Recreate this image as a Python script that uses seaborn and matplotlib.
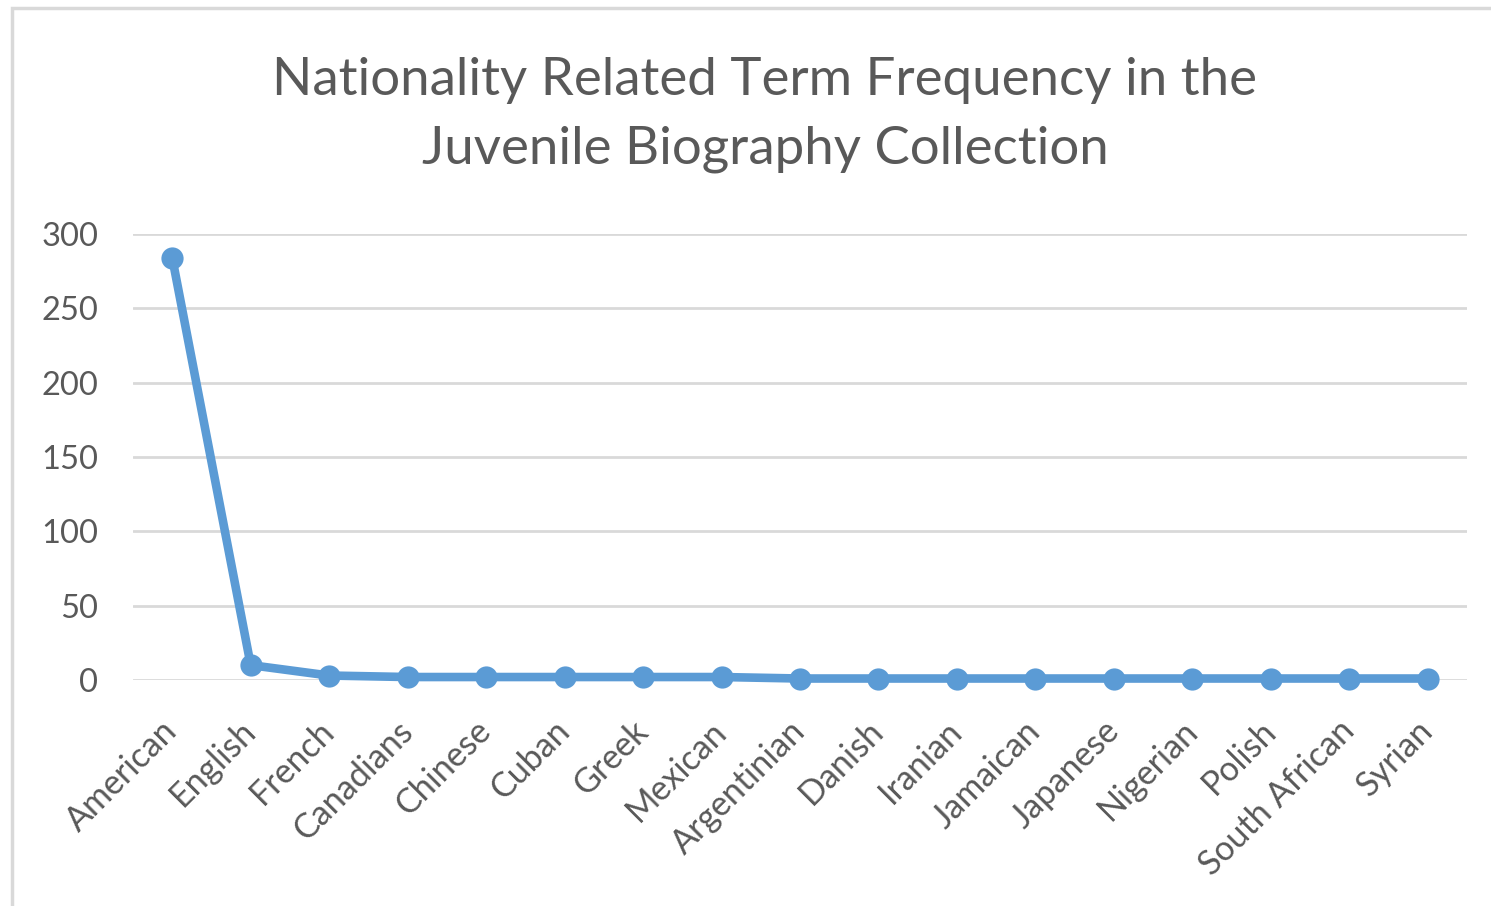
import seaborn as sns
import matplotlib.pyplot as plt
import pandas as pd
from matplotlib.patches import Rectangle

nationalities = ['American', 'English', 'French', 'Canadians', 'Chinese', 'Cuban',
                 'Greek', 'Mexican', 'Argentinian', 'Danish', 'Iranian', 'Jamaican',
                 'Japanese', 'Nigerian', 'Polish', 'South African', 'Syrian']
counts = [284, 10, 3, 2, 2, 2, 2, 2, 1, 1, 1, 1, 1, 1, 1, 1, 1]

df = pd.DataFrame({'term': nationalities, 'count': counts})

sns.set_style('white')
plt.rcParams['font.family'] = ['Lato', 'DejaVu Sans']

fig = plt.figure(figsize=(14.91, 9.06), dpi=100)
ax = fig.add_axes([133 / 1491, 1 - 680 / 906, (1467 - 133) / 1491, 446 / 906])

sns.lineplot(data=df, x='term', y='count', ax=ax, color='#5B9BD5', linewidth=6.2,
             marker='o', markersize=16, markeredgewidth=0, sort=False)

ax.set_ylim(0, 300)
ax.set_xlim(-0.5, len(nationalities) - 0.5)
ax.set_yticks(range(0, 301, 50))
ax.yaxis.grid(True, color='#D9D9D9', linewidth=2)
ax.set_axisbelow(True)
for s in ax.spines.values():
    s.set_visible(False)
ax.set_xlabel('')
ax.set_ylabel('')
ax.tick_params(axis='both', length=0, labelsize=23.5, labelcolor='#595959')
ax.tick_params(axis='y', pad=25)
ax.set_xticks(range(len(nationalities)))
ax.set_xticklabels(nationalities, rotation=45, ha='right', va='center',
                   rotation_mode='anchor', fontsize=24.5)
ax.tick_params(axis='x', pad=33)
for line in ax.lines:
    line.set_clip_on(False)

fig.text(0.513, 1 - 115 / 906, 'Nationality Related Term Frequency in the\nJuvenile Biography Collection',
         ha='center', va='center', fontsize=38, color='#595959', linespacing=1.58)

fig.patches.append(Rectangle((12 / 1491, -0.01), 1, 1 - 8 / 906 + 0.01, transform=fig.transFigure,
                             fill=False, edgecolor='#D9D9D9', linewidth=2.5))

fig.savefig('out.png', dpi=100)
